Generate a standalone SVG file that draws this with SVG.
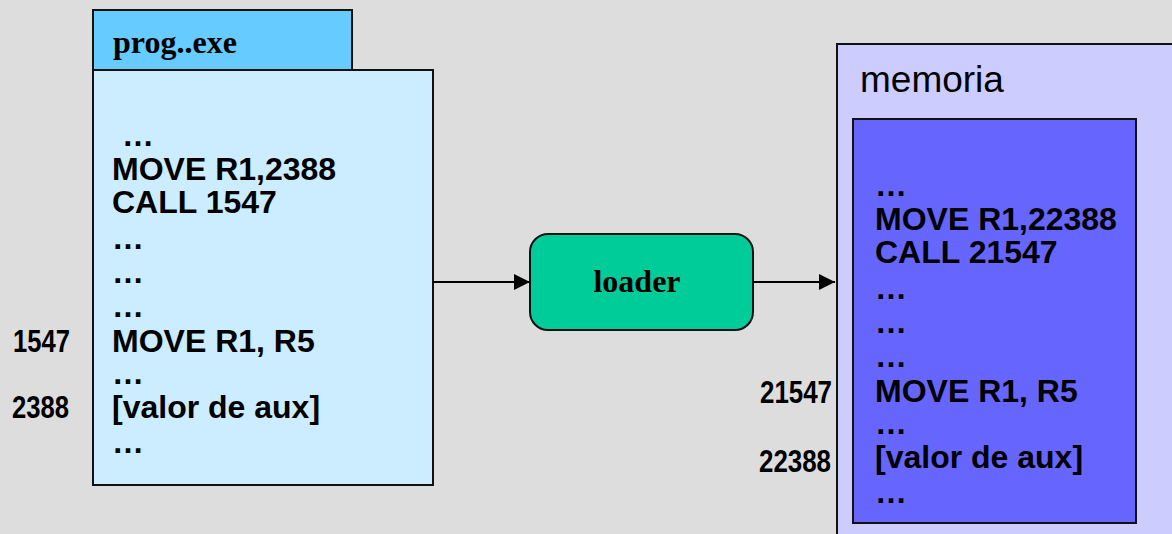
<svg xmlns="http://www.w3.org/2000/svg" width="1172" height="534" viewBox="0 0 1172 534">
  <defs>
    <marker id="arrow" viewBox="0 0 16 16" refX="16" refY="8" markerWidth="16" markerHeight="16" markerUnits="userSpaceOnUse" orient="auto">
      <path d="M0,0 L16,8 L0,16 Z" fill="#000"/>
    </marker>
    <style>
      .box { stroke: #111; stroke-width: 2; }
      .code { font-family: "Liberation Sans", Arial, sans-serif; font-weight: bold; font-size: 32px; fill: #000; }
      .addr { font-family: "Liberation Sans", Arial, sans-serif; font-weight: bold; font-size: 32px; fill: #000; }
      .title { font-family: "Liberation Serif", "Times New Roman", serif; font-weight: bold; font-size: 32px; fill: #000; }
      .label { font-family: "Liberation Sans", Arial, sans-serif; font-size: 37px; fill: #000; }
      .edge { stroke: #000; stroke-width: 2; fill: none; }
    </style>
  </defs>

  <rect width="1172" height="534" fill="#DDDDDD"/>

  <!-- executable file on disk -->
  <g id="prog-exe">
    <rect class="box" x="93" y="10" width="259" height="60" fill="#66CCFF"/>
    <rect class="box" x="93" y="70" width="340" height="415" fill="#CCECFF"/>
    <text class="title" x="113" y="53">prog..exe</text>
    <text class="code" x="122" y="146">…</text>
    <text class="code" x="112" y="180">MOVE R1,2388</text>
    <text class="code" x="112" y="213">CALL 1547</text>
    <text class="code" x="112" y="249">…</text>
    <text class="code" x="112" y="283">…</text>
    <text class="code" x="112" y="317">…</text>
    <text class="code" x="112" y="352">MOVE R1, R5</text>
    <text class="code" x="112" y="384">…</text>
    <text class="code" x="112" y="418">[valor de aux]</text>
    <text class="code" x="112" y="453">…</text>
    <text class="addr" x="13" y="352" textLength="57" lengthAdjust="spacingAndGlyphs">1547</text>
    <text class="addr" x="12" y="418" textLength="57" lengthAdjust="spacingAndGlyphs">2388</text>
  </g>

  <!-- loader -->
  <g id="loader">
    <rect class="box" x="530" y="234" width="223" height="96" rx="18" ry="18" fill="#00CC99"/>
    <text class="title" x="637" y="292" text-anchor="middle">loader</text>
  </g>

  <!-- main memory with the relocated image -->
  <g id="memoria">
    <rect class="box" x="837" y="44" width="345" height="500" fill="#CCCCFF"/>
    <text class="label" x="860" y="92">memoria</text>
    <rect class="box" x="853" y="119" width="283" height="404" fill="#6666FF"/>
    <text class="code" x="875" y="196">…</text>
    <text class="code" x="875" y="230">MOVE R1,22388</text>
    <text class="code" x="875" y="263">CALL 21547</text>
    <text class="code" x="875" y="299">…</text>
    <text class="code" x="875" y="333">…</text>
    <text class="code" x="875" y="367">…</text>
    <text class="code" x="875" y="402">MOVE R1, R5</text>
    <text class="code" x="875" y="434">…</text>
    <text class="code" x="875" y="468">[valor de aux]</text>
    <text class="code" x="875" y="503">…</text>
    <text class="addr" x="760" y="403" textLength="72" lengthAdjust="spacingAndGlyphs">21547</text>
    <text class="addr" x="759" y="472" textLength="72" lengthAdjust="spacingAndGlyphs">22388</text>
  </g>

  <g id="connectors">
    <line class="edge" x1="433" y1="282" x2="530" y2="282" marker-end="url(#arrow)"/>
    <line class="edge" x1="753" y1="282" x2="835" y2="282" marker-end="url(#arrow)"/>
  </g>
</svg>
